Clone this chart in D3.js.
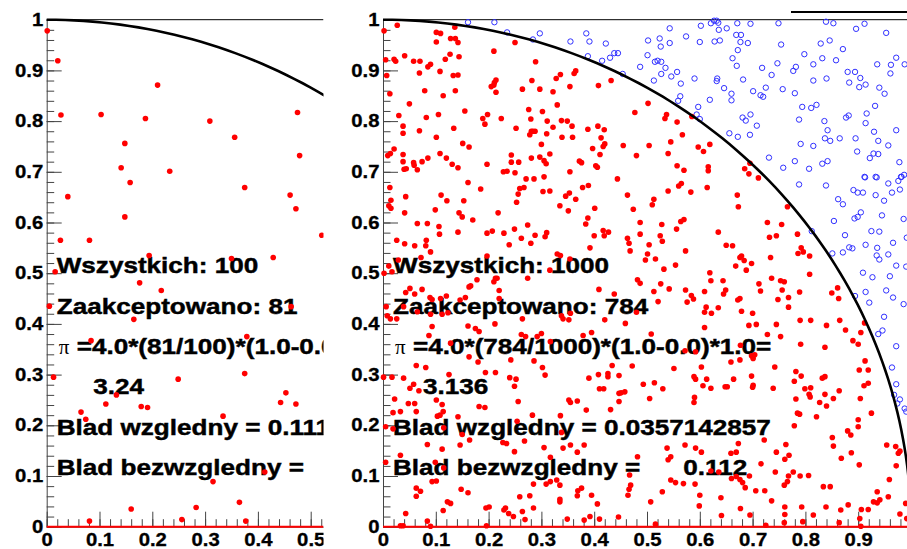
<!DOCTYPE html>
<html>
<head>
<meta charset="utf-8">
<script src="https://cdn.jsdelivr.net/npm/d3@7"></script>
<style>
  body { margin: 0; background: #fff; }
  svg { display: block; }
</style>
</head>
<body>
<svg id="chart" width="907" height="549"></svg>
<script>
// --- data ------------------------------------------------------------
const yTickLabels = ["0", "0.1", "0.2", "0.3", "0.4", "0.5", "0.6", "0.7", "0.8", "0.9", "1"];
const leftXTickLabels = ["0", "0.1", "0.2", "0.3", "0.4", "0.5"];
const rightXTickLabels = ["0", "0.1", "0.2", "0.3", "0.4", "0.5", "0.6", "0.7", "0.8", "0.9"];

const totals = [100, 1000];
const accepted = [81, 784];
const piEstimates = ["3.24", "3.136"];
const relErrors = ["0.1111111111", "0.0357142857"];
const absErrors = ["0.36", "0.112"];

// run with 100 points (only the part that is visible, x < 0.53)
const leftInside = [
  [0.001,0.978],[0.021,0.919],[0.027,0.812],[0.103,0.813],[0.210,0.871],[0.187,0.805],[0.148,0.756],
  [0.141,0.708],[0.158,0.679],[0.233,0.701],[0.309,0.800],[0.356,0.768],[0.375,0.669],[0.475,0.817],
  [0.479,0.732],[0.461,0.654],[0.472,0.627],[0.040,0.651],[0.148,0.611],[0.026,0.565],[0.081,0.565],
  [0.521,0.575],[0.429,0.531],[0.350,0.529],[0.194,0.535],[0.016,0.503],[0.176,0.481],
  [0.005,0.435],[0.217,0.466],[0.463,0.434],[0.165,0.409],[0.084,0.367],[0.379,0.375],[0.013,0.295],
  [0.249,0.291],[0.375,0.302],[0.132,0.260],[0.065,0.226],[0.074,0.212],[0.112,0.242],[0.179,0.237],
  [0.191,0.235],[0.334,0.218],[0.443,0.245],[0.453,0.264],[0.472,0.242],[0.315,0.089],[0.160,0.035],
  [0.283,0.038],[0.365,0.048],[0.081,0.011],[0.256,0.014],[0.377,0.011],[0.413,0.108]
];

// run with 1000 points: accepted (inside the circle)
const rightInside = [
  [0.002,0.978],[0.027,0.989],[0.005,0.921],[0.021,0.922],[0.024,0.918],[0.007,0.890],[0.013,0.854],
  [0.041,0.929],[0.058,0.918],[0.070,0.918],[0.069,0.895],[0.085,0.907],[0.090,0.912],[0.079,0.860],
  [0.050,0.834],[0.030,0.811],[0.038,0.790],[0.038,0.776],[0.082,0.807],[0.069,0.781],[0.105,0.813],
  [0.101,0.768],[0.108,0.898],[0.114,0.850],[0.118,0.922],[0.127,0.932],[0.101,0.975],[0.109,0.973],
  [0.101,0.956],[0.128,0.963],[0.137,0.963],[0.142,0.955],[0.136,0.985],[0.144,0.927],[0.142,0.891],
  [0.133,0.890],[0.137,0.860],[0.155,0.820],[0.134,0.786],[0.151,0.756],[0.163,0.749],[0.142,0.708],
  [0.131,0.715],[0.120,0.727],[0.108,0.736],[0.085,0.727],[0.074,0.720],[0.058,0.718],[0.059,0.713],
  [0.065,0.704],[0.044,0.706],[0.040,0.705],[0.038,0.720],[0.038,0.734],[0.014,0.736],[0.009,0.732],
  [0.021,0.745],[0.210,0.938],[0.214,0.881],[0.211,0.876],[0.210,0.871],[0.205,0.868],[0.214,0.857],
  [0.198,0.813],[0.189,0.805],[0.193,0.794],[0.224,0.805],[0.252,0.786],[0.250,0.955],[0.264,0.863],
  [0.282,0.880],[0.297,0.863],[0.289,0.917],[0.276,0.823],[0.280,0.804],[0.281,0.780],[0.278,0.773],
  [0.284,0.780],[0.288,0.780],[0.302,0.819],[0.311,0.800],[0.310,0.775],[0.300,0.754],[0.322,0.788],
  [0.322,0.858],[0.328,0.884],[0.336,0.892],[0.330,0.832],[0.338,0.801],[0.349,0.800],[0.358,0.790],
  [0.354,0.868],[0.362,0.894],[0.365,0.899],[0.339,0.768],[0.359,0.768],[0.388,0.784],[0.407,0.790],
  [0.419,0.783],[0.408,0.870],[0.432,0.880],[0.397,0.746],[0.411,0.734],[0.420,0.755],[0.417,0.750],
  [0.413,0.767],[0.455,0.752],[0.480,0.732],[0.477,0.817],[0.316,0.735],[0.297,0.729],[0.305,0.722],
  [0.309,0.716],[0.281,0.727],[0.243,0.733],[0.243,0.719],[0.257,0.719],[0.228,0.700],[0.235,0.701],
  [0.250,0.698],[0.197,0.715],[0.354,0.700],[0.372,0.721],[0.376,0.718],[0.403,0.712],[0.406,0.709],
  [0.502,0.835],[0.537,0.813],[0.534,0.805],[0.557,0.798],[0.585,0.809],[0.567,0.773],[0.545,0.759],
  [0.504,0.752],[0.540,0.736],[0.597,0.749],[0.607,0.740],[0.619,0.754],[0.557,0.712],[0.570,0.703],
  [0.616,0.710],[0.616,0.702],[0.695,0.717],[0.685,0.706],[0.693,0.696],[0.711,0.688],
  [0.013,0.669],[0.015,0.644],[0.011,0.633],[0.015,0.628],[0.043,0.651],[0.041,0.619],[0.065,0.598],
  [0.084,0.598],[0.106,0.592],[0.107,0.577],[0.099,0.625],[0.110,0.654],[0.121,0.643],[0.144,0.619],
  [0.150,0.611],[0.153,0.643],[0.161,0.679],[0.170,0.605],[0.185,0.666],[0.142,0.581],[0.197,0.579],
  [0.207,0.583],[0.218,0.619],[0.229,0.579],[0.239,0.556],[0.249,0.587],[0.253,0.640],[0.256,0.656],
  [0.259,0.667],[0.267,0.669],[0.271,0.686],[0.286,0.686],[0.305,0.690],[0.303,0.661],[0.316,0.662],
  [0.335,0.633],[0.346,0.652],[0.353,0.658],[0.351,0.623],[0.365,0.646],[0.378,0.669],[0.389,0.673],
  [0.401,0.628],[0.444,0.686],[0.463,0.654],[0.474,0.626],[0.384,0.597],[0.388,0.609],[0.392,0.550],
  [0.400,0.574],[0.417,0.584],[0.427,0.581],[0.419,0.574],[0.463,0.569],[0.466,0.559],[0.468,0.544],
  [0.487,0.577],[0.487,0.600],[0.316,0.506],[0.330,0.538],[0.336,0.535],[0.354,0.528],[0.274,0.595],
  [0.262,0.569],[0.280,0.559],[0.288,0.575],[0.310,0.580],[0.307,0.572],[0.274,0.490],[0.197,0.534],
  [0.213,0.490],[0.210,0.483],[0.216,0.490],[0.220,0.466],[0.220,0.450],[0.178,0.487],[0.166,0.475],
  [0.163,0.473],[0.156,0.452],[0.146,0.447],[0.120,0.455],[0.109,0.450],[0.089,0.452],[0.093,0.448],
  [0.074,0.468],[0.060,0.459],[0.051,0.470],[0.043,0.462],[0.029,0.526],[0.041,0.558],[0.060,0.554],
  [0.081,0.554],[0.082,0.565],[0.090,0.542],[0.072,0.531],[0.026,0.565],[0.011,0.514],[0.002,0.500],
  [0.017,0.503],[0.006,0.434],[0.008,0.416],[0.014,0.410],[0.026,0.410],[0.039,0.434],[0.090,0.419],
  [0.112,0.419],[0.123,0.422],[0.093,0.395],[0.065,0.424],[0.087,0.377],[0.128,0.362],[0.175,0.391],
  [0.161,0.396],[0.182,0.385],[0.212,0.400],[0.264,0.410],[0.262,0.379],[0.270,0.375],[0.292,0.375],
  [0.300,0.381],[0.317,0.365],[0.338,0.416],[0.341,0.410],[0.352,0.408],[0.355,0.421],[0.379,0.377],
  [0.395,0.383],[0.420,0.408],[0.409,0.468],[0.438,0.459],[0.459,0.401],[0.480,0.423],[0.482,0.487],
  [0.487,0.480],
  [0.565,0.677],[0.560,0.672],[0.540,0.662],[0.583,0.660],[0.614,0.669],[0.671,0.654],[0.673,0.631],
  [0.513,0.646],[0.510,0.635],[0.528,0.596],[0.564,0.602],[0.570,0.606],[0.556,0.587],[0.525,0.574],
  [0.529,0.563],[0.504,0.556],[0.501,0.538],[0.497,0.526],[0.516,0.528],[0.554,0.516],[0.532,0.508],
  [0.573,0.544],[0.635,0.581],[0.650,0.555],[0.662,0.554],[0.679,0.534],[0.676,0.531],[0.684,0.525],
  [0.698,0.519],[0.668,0.514],[0.688,0.506],[0.619,0.501],[0.621,0.485],[0.644,0.485],[0.649,0.467],
  [0.645,0.459],[0.609,0.464],[0.573,0.467],[0.584,0.456],[0.588,0.449],[0.576,0.443],[0.542,0.469],
  [0.526,0.479],[0.513,0.464],[0.521,0.444],[0.676,0.450],[0.672,0.447],[0.712,0.479],[0.715,0.465],
  [0.736,0.490],[0.753,0.485],[0.760,0.483],[0.756,0.467],[0.768,0.452],[0.748,0.448],[0.768,0.433],
  [0.728,0.600],[0.732,0.571],[0.745,0.574],[0.755,0.596],[0.766,0.631],[0.785,0.577],[0.792,0.550],
  [0.796,0.542],[0.786,0.539],[0.808,0.534],[0.808,0.498],[0.789,0.463],[0.734,0.531],[0.850,0.461],
  [0.861,0.471],[0.863,0.450],[0.612,0.433],[0.635,0.432],[0.622,0.421],[0.609,0.423],[0.679,0.425],
  [0.700,0.421],[0.693,0.397],[0.707,0.399],[0.609,0.393],[0.745,0.399],[0.728,0.379],[0.753,0.375],
  [0.790,0.407],[0.810,0.407],[0.840,0.397],[0.865,0.407],[0.876,0.388],[0.912,0.402],[0.905,0.383],
  [0.890,0.367],[0.900,0.360],[0.791,0.360],[0.837,0.354],[0.508,0.380],[0.677,0.358],
  [0.001,0.295],[0.017,0.295],[0.039,0.293],[0.063,0.318],[0.081,0.314],[0.058,0.281],[0.051,0.273],
  [0.068,0.268],[0.060,0.243],[0.022,0.252],[0.019,0.225],[0.033,0.227],[0.005,0.197],[0.019,0.193],
  [0.048,0.243],[0.063,0.227],[0.101,0.250],[0.108,0.220],[0.112,0.241],[0.114,0.227],[0.103,0.218],
  [0.125,0.300],[0.142,0.217],[0.163,0.335],[0.180,0.325],[0.194,0.304],[0.213,0.304],[0.240,0.294],
  [0.252,0.291],[0.249,0.277],[0.256,0.247],[0.242,0.329],[0.286,0.327],[0.302,0.314],[0.307,0.299],
  [0.283,0.220],[0.254,0.208],[0.182,0.237],[0.193,0.235],[0.164,0.171],[0.150,0.182],[0.146,0.161],
  [0.115,0.195],[0.112,0.153],[0.115,0.116],[0.084,0.162],[0.099,0.127],[0.101,0.090],[0.093,0.089],
  [0.063,0.076],[0.063,0.060],[0.071,0.070],[0.033,0.141],[0.005,0.127],[0.161,0.067],[0.148,0.074],
  [0.122,0.049],[0.128,0.046],[0.114,0.032],[0.043,0.026],[0.033,0.002],[0.038,0.002],[0.084,0.011],
  [0.090,0.001],[0.195,0.037],[0.201,0.039],[0.196,0.002],[0.232,0.037],[0.229,0.033],[0.238,0.026],
  [0.247,0.020],[0.264,0.030],[0.269,0.014],[0.285,0.037],[0.259,0.059],[0.278,0.061],[0.285,0.084],
  [0.309,0.084],[0.317,0.089],[0.335,0.082],[0.329,0.092],[0.335,0.054],[0.335,0.049],[0.349,0.015],
  [0.368,0.061],[0.369,0.071],[0.376,0.076],[0.395,0.062],[0.406,0.045],[0.410,0.015],[0.381,0.013],
  [0.392,0.020],[0.446,0.019],[0.464,0.062],[0.466,0.074],[0.469,0.082],[0.467,0.102],[0.482,0.138],
  [0.381,0.161],[0.355,0.161],[0.368,0.147],[0.341,0.155],[0.338,0.186],[0.317,0.137],[0.305,0.156],
  [0.268,0.169],[0.249,0.148],[0.234,0.164],[0.227,0.166],[0.336,0.219],[0.368,0.248],[0.385,0.230],
  [0.390,0.293],[0.408,0.300],[0.410,0.272],[0.418,0.272],[0.426,0.302],[0.426,0.296],[0.431,0.231],
  [0.447,0.247],[0.447,0.263],[0.451,0.264],[0.458,0.266],[0.434,0.318],[0.447,0.298],[0.472,0.317],
  [0.352,0.250],[0.355,0.245],
  [0.572,0.347],[0.592,0.345],[0.659,0.325],[0.676,0.329],[0.698,0.337],[0.701,0.332],[0.704,0.339],
  [0.551,0.312],[0.603,0.315],[0.493,0.281],[0.514,0.284],[0.530,0.272],[0.505,0.253],[0.589,0.296],
  [0.592,0.291],[0.613,0.291],[0.606,0.278],[0.621,0.273],[0.590,0.255],[0.589,0.245],[0.648,0.276],
  [0.652,0.276],[0.664,0.291],[0.698,0.297],[0.701,0.279],[0.700,0.275],[0.742,0.315],[0.739,0.273],
  [0.782,0.306],[0.792,0.297],[0.779,0.287],[0.799,0.272],[0.810,0.274],[0.807,0.261],[0.809,0.256],
  [0.837,0.296],[0.832,0.293],[0.837,0.261],[0.853,0.253],[0.864,0.268],[0.827,0.245],[0.840,0.238],
  [0.782,0.252],[0.785,0.224],[0.789,0.222],[0.779,0.199],[0.821,0.217],[0.902,0.309],[0.919,0.309],
  [0.913,0.327],[0.911,0.278],[0.919,0.283],[0.904,0.253],[0.925,0.224],[0.900,0.211],[0.900,0.197],
  [0.880,0.189],[0.886,0.181],[0.851,0.176],[0.853,0.159],[0.887,0.146],[0.868,0.135],[0.902,0.122],
  [0.954,0.161],[0.971,0.158],[0.979,0.149],[0.976,0.145],[0.972,0.120],[0.959,0.093],[0.957,0.059],
  [0.936,0.069],[0.941,0.053],[0.936,0.047],[0.929,0.049],[0.919,0.034],[0.906,0.034],[0.903,0.016],
  [0.905,0.001],[0.867,0.033],[0.864,0.008],[0.815,0.023],[0.793,0.039],[0.761,0.039],[0.760,0.008],
  [0.725,0.003],[0.736,0.051],[0.706,0.071],[0.723,0.071],[0.686,0.077],[0.681,0.087],[0.676,0.093],
  [0.660,0.095],[0.669,0.099],[0.659,0.145],[0.669,0.147],[0.673,0.164],[0.621,0.110],[0.603,0.147],
  [0.592,0.155],[0.572,0.161],[0.545,0.138],[0.540,0.132],[0.538,0.155],[0.545,0.092],[0.554,0.087],
  [0.569,0.085],[0.529,0.069],[0.507,0.049],[0.600,0.062],[0.599,0.041],[0.641,0.022],[0.640,0.057],
  [0.677,0.036],[0.695,0.023],[0.516,0.005],[0.743,0.108],[0.745,0.147],[0.763,0.162],[0.769,0.141],
  [0.761,0.133],[0.760,0.082],[0.766,0.089],[0.768,0.100],[0.777,0.108],[0.790,0.100],[0.806,0.101],
  [0.722,0.171],[0.834,0.079],[0.847,0.079],[0.881,0.043],[0.992,0.016],
  [0.761,0.024],[0.795,0.010],[0.839,0.039],[0.979,0.025],[0.990,0.046],[0.716,0.124],[0.694,0.100],
  [0.636,0.108],[0.591,0.084]
];

// run with 1000 points: rejected (outside the circle)
const rightOutside = [
  [0.161,0.995],[0.211,0.995],[0.235,0.975],[0.284,0.961],[0.297,0.973],[0.355,0.957],[0.385,0.973],
  [0.391,0.957],[0.422,0.953],[0.388,0.928],[0.415,0.919],[0.430,0.925],[0.438,0.934],[0.445,0.934],
  [0.454,0.893],[0.487,0.907],
  [0.543,0.983],[0.602,0.988],[0.621,0.993],[0.627,0.998],[0.632,0.998],[0.635,0.994],[0.636,0.980],
  [0.651,0.983],[0.671,0.993],[0.696,0.992],[0.749,0.993],[0.839,0.996],[0.853,0.993],[0.912,0.992],
  [0.896,0.982],[0.953,0.974],[0.502,0.959],[0.524,0.963],[0.543,0.954],[0.526,0.947],[0.574,0.967],
  [0.600,0.956],[0.628,0.957],[0.638,0.959],[0.669,0.970],[0.678,0.970],[0.677,0.956],[0.691,0.954],
  [0.754,0.951],[0.672,0.940],[0.829,0.953],[0.846,0.959],[0.871,0.942],[0.501,0.930],[0.515,0.917],
  [0.520,0.919],[0.527,0.917],[0.535,0.905],[0.527,0.893],[0.546,0.888],[0.557,0.897],[0.513,0.880],
  [0.564,0.874],[0.590,0.884],[0.633,0.884],[0.632,0.879],[0.662,0.924],[0.670,0.909],[0.682,0.882],
  [0.718,0.905],[0.747,0.914],[0.736,0.891],[0.777,0.899],[0.782,0.907],[0.798,0.932],[0.815,0.912],
  [0.832,0.924],[0.858,0.920],[0.815,0.880],[0.840,0.884],[0.880,0.897],[0.894,0.897],[0.904,0.885],
  [0.883,0.876],[0.914,0.872],[0.902,0.867],[0.936,0.912],[0.962,0.911],[0.972,0.925],[0.988,0.912],
  [0.961,0.894],[0.646,0.865],[0.660,0.854],[0.660,0.841],[0.619,0.842],[0.563,0.849],[0.559,0.840],
  [0.597,0.828],[0.594,0.813],[0.600,0.804],[0.701,0.859],[0.715,0.851],[0.720,0.848],[0.725,0.866],
  [0.757,0.863],[0.780,0.855],[0.794,0.828],[0.811,0.826],[0.821,0.832],[0.681,0.807],[0.687,0.801],
  [0.696,0.813],[0.708,0.791],[0.656,0.776],[0.672,0.769],[0.695,0.773],[0.788,0.803],[0.836,0.800],
  [0.842,0.782],[0.837,0.766],[0.847,0.761],[0.865,0.766],[0.791,0.755],[0.815,0.751],[0.877,0.807],
  [0.882,0.811],[0.916,0.815],[0.932,0.830],[0.940,0.866],[0.950,0.854],[0.914,0.796],[0.930,0.779],
  [0.938,0.761],[0.957,0.752],[0.972,0.782],[0.895,0.766],[0.898,0.740],[0.922,0.727],[0.929,0.736],
  [0.938,0.735],[0.978,0.719],[0.731,0.728],[0.758,0.708],[0.780,0.721],[0.807,0.706],[0.832,0.716],
  [0.842,0.721],[0.912,0.690],[0.933,0.690],[0.981,0.690],[0.987,0.694],
  [0.788,0.675],[0.839,0.673],[0.913,0.689],[0.935,0.689],[0.957,0.677],[0.976,0.682],[0.982,0.690],
  [0.891,0.664],[0.899,0.659],[0.909,0.659],[0.933,0.654],[0.949,0.643],[0.964,0.659],[0.979,0.665],
  [0.862,0.646],[0.871,0.636],[0.854,0.603],[0.893,0.608],[0.899,0.611],[0.905,0.620],[0.945,0.614],
  [0.986,0.607],[0.812,0.583],[0.875,0.575],[0.925,0.583],[0.940,0.582],[0.851,0.539],[0.871,0.541],
  [0.883,0.551],[0.889,0.549],[0.914,0.556],[0.936,0.550],[0.966,0.560],[0.992,0.570],[0.935,0.535],
  [0.940,0.527],[0.957,0.537],[0.972,0.515],[0.991,0.513],[0.909,0.501],[0.927,0.492],[0.960,0.494],
  [0.894,0.455],[0.914,0.463],[0.921,0.442],[0.953,0.466],[0.966,0.452],[0.986,0.439],[0.949,0.414],
  [0.946,0.387],[0.938,0.380],[0.972,0.356],
  [0.964,0.314],[0.972,0.281],[0.968,0.260],[0.979,0.251],[0.974,0.243],[0.988,0.233],[0.991,0.227]
];

// --- layout -----------------------------------------------------------
const W = 907, H = 549;
const SX = 1.16;              // the reference glyphs are stretched sideways
const yTop = 19.7, yBottom = 526.7, unitW = 528;
const labelFont = "'Liberation Sans', Arial, Helvetica, sans-serif";

const svg = d3.select("#chart");
const y = d3.scaleLinear().domain([0, 1]).range([yBottom, yTop]);

const panels = [
  { x0: 46.7, clip: [0, 323.5], xLabels: leftXTickLabels, inside: leftInside, outside: [], indent: 36.6 },
  { x0: 383, clip: [325, W], xLabels: rightXTickLabels, inside: rightInside, outside: rightOutside, indent: 30 }
];

const defs = svg.append("defs");

panels.forEach((p, k) => {
  const x = d3.scaleLinear().domain([0, 1]).range([p.x0, p.x0 + unitW]);
  const right = p.clip[1];

  defs.append("clipPath").attr("id", "clip" + k)
    .append("rect")
      .attr("x", p.clip[0]).attr("y", 0)
      .attr("width", p.clip[1] - p.clip[0]).attr("height", H);

  const g = svg.append("g").attr("clip-path", `url(#clip${k})`);

  // top of the frame
  g.append("line")
    .attr("x1", p.x0).attr("x2", right)
    .attr("y1", yTop).attr("y2", yTop)
    .attr("stroke", "#000").attr("stroke-width", 1);

  /* axes: ticks point inside, ROOT style */
  const minor = d3.range(0, 1.0001, 0.02);

  const yAxis = g.append("g").attr("transform", `translate(${p.x0},0)`)
    .call(d3.axisLeft(y)
      .tickValues(yTickLabels.map(Number))
      .tickFormat((d, i) => yTickLabels[i])
      .tickSizeInner(-15).tickSizeOuter(0).tickPadding(3));
  g.append("g").attr("transform", `translate(${p.x0},0)`)
    .call(d3.axisLeft(y).tickValues(minor).tickFormat("").tickSizeInner(-7.5).tickSizeOuter(0))
    .call(a => a.select(".domain").remove());

  const xAxis = g.append("g").attr("transform", `translate(0,${yBottom})`)
    .call(d3.axisBottom(x)
      .tickValues(p.xLabels.map(Number))
      .tickFormat((d, i) => p.xLabels[i])
      .tickSizeInner(-15).tickSizeOuter(0).tickPadding(7));
  g.append("g").attr("transform", `translate(0,${yBottom})`)
    .call(d3.axisBottom(x).tickValues(minor).tickFormat("").tickSizeInner(-7.5).tickSizeOuter(0))
    .call(a => a.select(".domain").remove());

  g.selectAll(".tick line, .domain").attr("stroke", "#444").attr("stroke-width", 1);
  [yAxis, xAxis].forEach(a => a
    .attr("font-family", labelFont).attr("font-size", 17.5).attr("font-weight", "bold")
    .selectAll("text")
      .attr("fill", "#000").attr("stroke", "#000").attr("stroke-width", 0.3)
      .attr("transform", `scale(${SX},1)`));

  // red line along the bottom
  g.append("line")
    .attr("x1", p.x0).attr("x2", right)
    .attr("y1", yBottom).attr("y2", yBottom)
    .attr("stroke", "#ff0000").attr("stroke-width", 2);

  /* result texts (drawn under the points) */
  const tx = p.x0 + 10;
  const txt = (str, dx, base, opts = {}) => g.append("text")
    .attr("transform", `translate(${tx + dx},${base}) scale(${opts.sx || SX},1)`)
    .attr("font-family", opts.family || labelFont)
    .attr("font-weight", opts.weight || "bold")
    .attr("font-size", opts.size || 22.5)
    .attr("fill", "#000")
    .attr("stroke", opts.weight ? null : "#000")
    .attr("stroke-width", opts.weight ? null : 0.45)
    .style("white-space", "pre")
    .text(str);

  txt(`Wszystkich: ${totals[k]}`, 0, 273);
  txt(`Zaakceptowano: ${accepted[k]}`, 0, 314);
  txt("\u03c0", 2, 354, { family: "'Liberation Serif', 'Times New Roman', serif", weight: "normal", size: 21, sx: 1 });
  txt(`=4.0*(${accepted[k]}/${totals[k]})*(1.0-0.0)*1.0=`, 20, 354);
  txt(piEstimates[k], p.indent, 393.5);
  txt(`Blad wzgledny = ${relErrors[k]}`, 0, 435);
  txt("Blad bezwzgledny =", 0, 475);
  txt(absErrors[k], 290.3, 475);

  /* points */
  g.append("g").selectAll("circle.out")
    .data(p.outside)
    .join("circle")
      .attr("class", "out")
      .attr("cx", d => x(d[0]))
      .attr("cy", d => y(d[1]))
      .attr("r", 2.7)
      .attr("fill", "none")
      .attr("stroke", "#3030ff")
      .attr("stroke-width", 1);

  g.append("g").selectAll("circle.in")
    .data(p.inside)
    .join("circle")
      .attr("class", "in")
      .attr("cx", d => x(d[0]))
      .attr("cy", d => y(d[1]))
      .attr("r", 2.8)
      .attr("fill", "#ff0000");

  /* quarter circle x^2 + y^2 = 1 */
  const angles = d3.range(0, 90.5, 1).map(a => a * Math.PI / 180);
  g.append("path")
    .datum(angles)
    .attr("fill", "none")
    .attr("stroke", "#000")
    .attr("stroke-width", 2.6)
    .attr("d", d3.line().x(a => x(Math.sin(a))).y(a => y(Math.cos(a))));
});

// short thick line at the very top right
svg.append("line")
  .attr("x1", 791).attr("x2", W)
  .attr("y1", 12).attr("y2", 12)
  .attr("stroke", "#000").attr("stroke-width", 2);
</script>
</body>
</html>
